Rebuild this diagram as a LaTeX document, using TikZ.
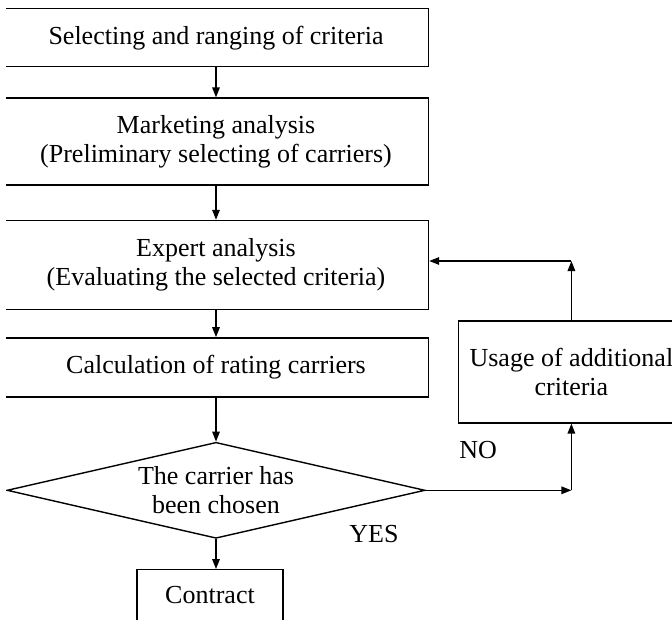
\documentclass[tikz,border=0pt]{standalone}
\usepackage{fontspec}
\setmainfont{Liberation Serif}
\usepackage{tikz}
\usetikzlibrary{positioning,arrows.meta,shapes.geometric}
\tikzset{
  blk/.style={draw, line width=1.4pt, rectangle, align=center,
              minimum width=425pt, inner sep=2pt,
              font=\fontsize{26}{29}\selectfont},
  dec/.style={blk, diamond, aspect=4.35, minimum width=418pt,
              minimum height=96pt, inner sep=0pt},
  flow/.style={-{Triangle[length=10pt,width=7.5pt]}, line width=1.4pt},
  lbl/.style={font=\fontsize{26}{29}\selectfont, inner sep=0pt},
}
\begin{document}
\begin{tikzpicture}[node distance=30pt]
\useasboundingbox (0,0) rectangle (672pt,-619pt);
\clip (6pt,0) rectangle (672pt,-619pt);
\node[blk, minimum height=58pt, anchor=north] (sel) at (216pt,-8pt) {Selecting and ranging of criteria};
\node[blk, minimum height=87pt, below=30pt of sel] (mkt) {Marketing analysis\\(Preliminary selecting of carriers)};
\node[blk, minimum height=89pt, below=34pt of mkt] (exp) {Expert analysis\\(Evaluating the selected criteria)};
\node[blk, minimum height=59pt, below=27pt of exp] (calc) {Calculation of rating carriers};
\node[dec, below=44pt of calc] (chs) {The carrier has\\been chosen};
\node[blk, minimum width=146pt, minimum height=60pt, text depth=9pt, below=30pt of chs, xshift=-6pt] (ctr) {Contract};
\node[blk, minimum width=226pt, minimum height=102pt, right=28.5pt of calc, yshift=-4.5pt] (add) {Usage of additional\\criteria};
\coordinate (c1) at (chs.east -| add.south);
\coordinate (c2) at ([yshift=4pt]exp.east -| add.north);
\draw[flow] (sel) -- (mkt);
\draw[flow] (mkt) -- (exp);
\draw[flow] (exp) -- (calc);
\draw[flow] (calc) -- (chs);
\draw[flow] (chs.south) -- (chs.south |- ctr.north);
\draw[flow] (chs.east) -- node[lbl, above=31pt, pos=0.36] (no) {NO} (c1);
\draw[flow] (c1) -- (add.south);
\draw[flow] (add.north) -- (c2);
\draw[flow] (c2) -- (c2 -| exp.east);
\node[lbl, below left=35pt and 27pt of chs.east] (yes) {YES};
\end{tikzpicture}
\end{document}
